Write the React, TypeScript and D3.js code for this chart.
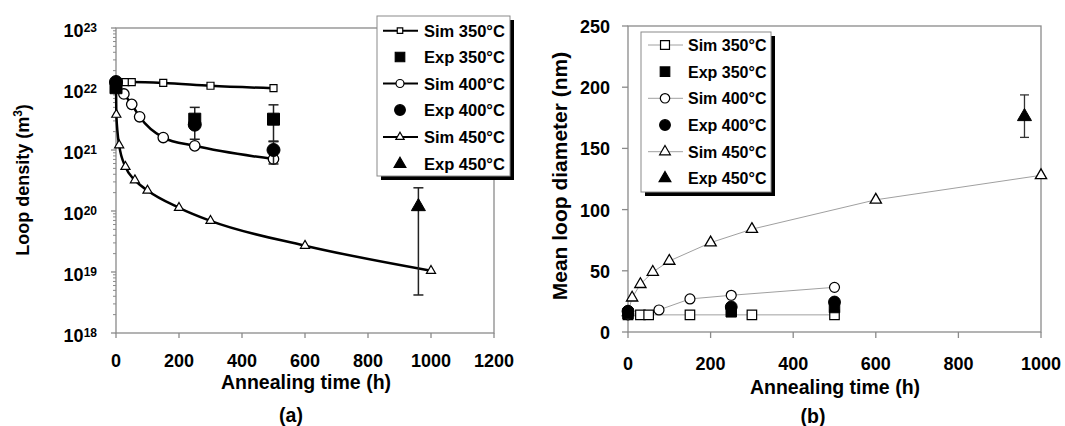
import React from 'react';
import * as d3 from 'd3';

// ---------- shared ----------
const legendLabels = ['Sim 350°C', 'Exp 350°C', 'Sim 400°C', 'Exp 400°C', 'Sim 450°C', 'Exp 450°C'];
const legendKinds = ['sq', 'sq', 'ci', 'ci', 'tr', 'tr'];
const legendFilled = [false, true, false, true, false, true];

// ---------- panel (a): loop density ----------
const aXTicks = [0, 200, 400, 600, 800, 1000, 1200];
const aYExponents = [18, 19, 20, 21, 22, 23];

const aSim350T = [0, 30, 50, 150, 300, 500];
const aSim350V = [1.25e22, 1.3e22, 1.3e22, 1.26e22, 1.13e22, 1.03e22];
const aSim400T = [0, 25, 50, 75, 150, 250, 500];
const aSim400V = [1.2e22, 8.3e21, 5.6e21, 3.5e21, 1.6e21, 1.17e21, 7.1e20];
const aSim450T = [0, 1, 10, 30, 60, 100, 200, 300, 600, 1000];
const aSim450V = [1.2e22, 3.8e21, 1.2e21, 5.3e20, 3.2e20, 2.17e20, 1.13e20, 6.9e19, 2.7e19, 1.05e19];

const aExp350T = [0, 250, 500];
const aExp350V = [1.05e22, 3.2e21, 3.2e21];
const aExp350Lo = [NaN, 1.5e21, 1.37e21];
const aExp350Hi = [NaN, 5.0e21, 5.5e21];
const aExp400T = [0, 250, 500];
const aExp400V = [1.3e22, 2.6e21, 1.0e21];
const aExp400Lo = [NaN, NaN, 5.9e20];
const aExp400Hi = [NaN, NaN, 1.4e21];
const aExp450T = [960];
const aExp450V = [1.18e20];
const aExp450Lo = [4.2e18];
const aExp450Hi = [2.4e20];

// ---------- panel (b): mean loop diameter ----------
const bXTicks = [0, 200, 400, 600, 800, 1000];
const bYTicks = [0, 50, 100, 150, 200, 250];

const bSim350T = [0, 30, 50, 150, 300, 500];
const bSim350V = [14, 14, 14, 14, 14, 14];
const bSim400T = [0, 75, 150, 250, 500];
const bSim400V = [14, 18, 27, 30, 36.5];
const bSim450T = [0, 10, 30, 60, 100, 200, 300, 600, 1000];
const bSim450V = [16, 28, 39, 49, 58, 73, 84, 108, 128];

const bExp350T = [0, 250, 500];
const bExp350V = [15, 16.5, 20];
const bExp400T = [0, 250, 500];
const bExp400V = [17, 20.5, 24.5];
const bExp450T = [960];
const bExp450V = [176];
const bExp450Lo = [159];
const bExp450Hi = [193.7];

const FONT = "'Liberation Sans', Arial, Helvetica, sans-serif";
const AXIS = '#8a8a8a';

function sym(kind: string, size: number) {
  const t = kind === 'sq' ? d3.symbolSquare : kind === 'ci' ? d3.symbolCircle : d3.symbolTriangle;
  return d3.symbol().type(t).size(size)() as string;
}

function Markers({ xs, ys, kind, size, filled, sw }: any) {
  const p = sym(kind, size);
  return (
    <g>
      {xs.map((x: number, i: number) => (
        <path key={i} d={p} transform={`translate(${x},${ys[i]})`}
          fill={filled ? '#000' : '#fff'} stroke="#000" strokeWidth={sw} />
      ))}
    </g>
  );
}

function ErrBars({ xs, lo, hi, cap, color, sw }: any) {
  return (
    <g stroke={color} strokeWidth={sw}>
      {xs.map((x: number, i: number) => isNaN(lo[i]) ? null : (
        <g key={i}>
          <line x1={x} x2={x} y1={lo[i]} y2={hi[i]} />
          <line x1={x - cap / 2} x2={x + cap / 2} y1={lo[i]} y2={lo[i]} />
          <line x1={x - cap / 2} x2={x + cap / 2} y1={hi[i]} y2={hi[i]} />
        </g>
      ))}
    </g>
  );
}

function Legend({ x, y, w, h, rows, lineX1, lineX2, markX, textX, lineColor, lineW, simSizes, expSizes, fontSize }: any) {
  return (
    <g>
      <rect x={x + 4} y={y + 4} width={w} height={h} fill="#000" />
      <rect x={x} y={y} width={w} height={h} fill="#fff" stroke={AXIS} strokeWidth={1} />
      {legendLabels.map((lab, i) => {
        const cy = rows[i];
        const filled = legendFilled[i];
        const k = legendKinds[i];
        const size = filled ? expSizes[k] : simSizes[k];
        return (
          <g key={i}>
            {!filled && <line x1={lineX1} x2={lineX2} y1={cy} y2={cy} stroke={lineColor} strokeWidth={lineW} />}
            <path d={sym(k, size)} transform={`translate(${markX},${cy})`} fill={filled ? '#000' : '#fff'} stroke="#000" strokeWidth={1.2} />
            <text x={textX} y={cy + 6} fontSize={fontSize} fontWeight="bold" fontFamily={FONT}>{lab}</text>
          </g>
        );
      })}
    </g>
  );
}

function PanelA() {
  const x = d3.scaleLinear().domain([0, 1200]).range([116, 494]);
  const y = d3.scaleLog().domain([1e18, 1e23]).range([333, 28]);
  const line = d3.line<[number, number]>().x(d => x(d[0])).y(d => y(d[1])).curve(d3.curveMonotoneX);
  const mk = (t: number[], v: number[]) => line(t.map((tt, i) => [tt, v[i]] as [number, number])) as string;
  const minor: number[] = [];
  for (let e = 18; e < 23; e++) for (let k = 2; k <= 9; k++) minor.push(k * Math.pow(10, e));
  const [x0, x1] = x.range();
  const [y0, y1] = y.range();
  return (
    <g>
      <rect x={x0} y={y1} width={x1 - x0} height={y0 - y1} fill="none" stroke={AXIS} strokeWidth={1.3} />
      {aXTicks.map(t => (
        <g key={t}>
          <line x1={x(t)} x2={x(t)} y1={y0} y2={y0 + 5} stroke={AXIS} strokeWidth={1.3} />
          <text x={x(t)} y={366.5} textAnchor="middle" fontSize={18} fontWeight="bold" fontFamily={FONT}>{t}</text>
        </g>
      ))}
      {minor.map((v, i) => (
        <line key={i} x1={x0 - 3} x2={x0} y1={y(v)} y2={y(v)} stroke={AXIS} strokeWidth={1} />
      ))}
      {aYExponents.map(e => {
        const yy = y(Math.pow(10, e));
        return (
          <g key={e}>
            <line x1={x0 - 5} x2={x0} y1={yy} y2={yy} stroke={AXIS} strokeWidth={1.3} />
            <text x={97} y={yy + 9} textAnchor="end" fontWeight="bold" fontFamily={FONT} fontSize={18}>
              10<tspan fontSize={12} dy={-5}>{e}</tspan>
            </text>
          </g>
        );
      })}
      <text transform="translate(29,180) rotate(-90)" textAnchor="middle" fontSize={18} fontWeight="bold" fontFamily={FONT}>
        Loop density (m<tspan fontSize={12} dy={-7}>3</tspan><tspan dy={7}>)</tspan>
      </text>
      <text x={306} y={388.5} textAnchor="middle" fontSize={19.5} fontWeight="bold" fontFamily={FONT}>Annealing time (h)</text>
      <text x={291} y={421.5} textAnchor="middle" fontSize={19.5} fontWeight="bold" fontFamily={FONT}>(a)</text>

      <g fill="none" stroke="#000" strokeWidth={2.5}>
        <path d={mk(aSim350T, aSim350V)} />
        <path d={mk(aSim400T, aSim400V)} />
        <path d={mk(aSim450T, aSim450V)} />
      </g>
      <Markers xs={aSim350T.map(x)} ys={aSim350V.map(y)} kind="sq" size={49} filled={false} sw={1.2} />
      <Markers xs={aSim400T.map(x)} ys={aSim400V.map(y)} kind="ci" size={85} filled={false} sw={1.3} />
      <Markers xs={aSim450T.map(x)} ys={aSim450V.map(y)} kind="tr" size={36} filled={false} sw={1.2} />

      <ErrBars xs={aExp350T.map(x)} lo={aExp350Lo.map(v => isNaN(v) ? NaN : y(v))} hi={aExp350Hi.map(v => isNaN(v) ? NaN : y(v))} cap={10} color="#222" sw={1.5} />
      <ErrBars xs={aExp400T.map(x)} lo={aExp400Lo.map(v => isNaN(v) ? NaN : y(v))} hi={aExp400Hi.map(v => isNaN(v) ? NaN : y(v))} cap={10} color="#222" sw={1.5} />
      <ErrBars xs={aExp450T.map(x)} lo={aExp450Lo.map(y)} hi={aExp450Hi.map(y)} cap={10} color="#222" sw={1.5} />
      <Markers xs={aExp400T.map(x)} ys={aExp400V.map(y)} kind="ci" size={133} filled={true} sw={1} />
      <Markers xs={aExp350T.map(x)} ys={aExp350V.map(y)} kind="sq" size={144} filled={true} sw={1} />
      <Markers xs={aExp450T.map(x)} ys={aExp450V.map(y)} kind="tr" size={85} filled={true} sw={1} />

      <Legend x={377} y={16} w={133} h={160} rows={[30.7, 57, 83.5, 110, 137, 164]}
        lineX1={383} lineX2={418} markX={400} textX={424} lineColor="#000" lineW={2}
        simSizes={{ sq: 30, ci: 50, tr: 30 }} expSizes={{ sq: 90, ci: 90, tr: 60 }} fontSize={16.5} />
    </g>
  );
}

function PanelB() {
  const x = d3.scaleLinear().domain([0, 1000]).range([628, 1041]);
  const y = d3.scaleLinear().domain([0, 250]).range([332, 26]);
  const line = d3.line<[number, number]>().x(d => x(d[0])).y(d => y(d[1]));
  const mk = (t: number[], v: number[]) => line(t.map((tt, i) => [tt, v[i]] as [number, number])) as string;
  const [x0, x1] = x.range();
  const [y0, y1] = y.range();
  return (
    <g>
      <rect x={x0} y={y1} width={x1 - x0} height={y0 - y1} fill="none" stroke={AXIS} strokeWidth={1.3} />
      {bXTicks.map(t => (
        <g key={t}>
          <line x1={x(t)} x2={x(t)} y1={y0} y2={y0 + 6} stroke={AXIS} strokeWidth={1.3} />
          <text x={x(t)} y={369.5} textAnchor="middle" fontSize={18} fontWeight="bold" fontFamily={FONT}>{t}</text>
        </g>
      ))}
      {bYTicks.map(t => (
        <g key={t}>
          <line x1={x0 - 6} x2={x0} y1={y(t)} y2={y(t)} stroke={AXIS} strokeWidth={1.3} />
          <text x={610} y={y(t) + 7} textAnchor="end" fontSize={18} fontWeight="bold" fontFamily={FONT}>{t}</text>
        </g>
      ))}
      <text transform="translate(567,176) rotate(-90)" textAnchor="middle" fontSize={21} fontWeight="bold" fontFamily={FONT}>Mean loop diameter (nm)</text>
      <text x={835} y={393.5} textAnchor="middle" fontSize={19.5} fontWeight="bold" fontFamily={FONT}>Annealing time (h)</text>
      <text x={813} y={423} textAnchor="middle" fontSize={19.5} fontWeight="bold" fontFamily={FONT}>(b)</text>

      <g fill="none" stroke="#a0a0a0" strokeWidth={1}>
        <path d={mk(bSim350T, bSim350V)} />
        <path d={mk(bSim400T, bSim400V)} />
        <path d={mk(bSim450T, bSim450V)} />
      </g>
      <Markers xs={bSim350T.map(x)} ys={bSim350V.map(y)} kind="sq" size={90} filled={false} sw={1.2} />
      <Markers xs={bSim400T.map(x)} ys={bSim400V.map(y)} kind="ci" size={78} filled={false} sw={1.2} />
      <Markers xs={bSim450T.map(x)} ys={bSim450V.map(y)} kind="tr" size={55} filled={false} sw={1.3} />

      <ErrBars xs={bExp450T.map(x)} lo={bExp450Lo.map(y)} hi={bExp450Hi.map(y)} cap={9} color="#333" sw={1.3} />
      <Markers xs={bExp400T.map(x)} ys={bExp400V.map(y)} kind="ci" size={110} filled={true} sw={1} />
      <Markers xs={bExp350T.map(x)} ys={bExp350V.map(y)} kind="sq" size={110} filled={true} sw={1} />
      <Markers xs={bExp450T.map(x)} ys={bExp450V.map(y)} kind="tr" size={85} filled={true} sw={1} />

      <Legend x={641} y={32} w={130} h={160} rows={[45, 71.7, 98.3, 125, 151.7, 178.3]}
        lineX1={648} lineX2={683} markX={665} textX={688} lineColor="#a0a0a0" lineW={1}
        simSizes={{ sq: 80, ci: 70, tr: 50 }} expSizes={{ sq: 90, ci: 90, tr: 60 }} fontSize={16} />
    </g>
  );
}

export default function App() {
  return (
    <svg width={1065} height={426} viewBox="0 0 1065 426"
      style={{ position: 'absolute', left: 0, top: 0, background: '#fff' }}>
      <rect x={0} y={0} width={1065} height={426} fill="#fff" />
      <PanelA />
      <PanelB />
    </svg>
  );
}
